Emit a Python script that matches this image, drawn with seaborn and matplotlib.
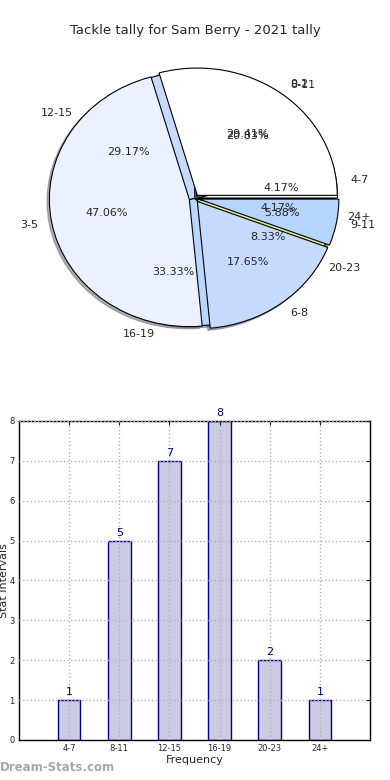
###############################################################################
###  Tackle tally: overlaid pie charts + frequency bar chart                ###
###############################################################################

import matplotlib
matplotlib.use('Agg')
import matplotlib.pyplot as plt
import seaborn as sns
import pandas as pd

#------------------------------------------------------------------------------
### Data

TITLE = 'Tackle tally for Sam Berry - 2021 tally'

# Tally intervals (bar chart and the lower pie)
tally_labels = ['4-7', '8-11', '12-15', '16-19', '20-23', '24+']
tally_counts = [1, 5, 7, 8, 2, 1]

# Game intervals (the upper pie)
game_labels = ['0-2', '3-5', '6-8', '9-11']
game_counts = [5, 8, 3, 1]

#------------------------------------------------------------------------------
### Styles

TALLY_COLORS = ['white', '#c6dafc', '#c6dafc', '#b9d6fe', '#d6ef8c', '#b9d6fe']
TALLY_EXPLODE = [0.02, 0.02, 0.0, 0.0, 0.0, 0.0]
GAME_COLORS = ['white', '#ebf1fe', '#c6d9fe', '#b5d5ff']
GAME_EXPLODE = [0.03, 0.04, 0.03, 0.03]
SHADOW = {'ox': -0.012, 'oy': -0.012, 'shade': 0.6}

BAR_FILL = '#cbcbe3'
BAR_EDGE = '#00008b'
BAR_WIDTH = 0.45

sns.set_style('white')
plt.rcParams['font.family'] = ['DejaVu Sans']

fig = plt.figure(figsize=(3.9, 7.8), dpi=100)
fig.text(0.5, 0.961, TITLE, ha='center', va='center', fontsize=9.5)

#------------------------------------------------------------------------------
### Pie charts (drawn on top of each other)

ax_pie = fig.add_axes([0.051, 0.54, 0.897, 0.408])
wedge_style = {'edgecolor': 'black', 'linewidth': 0.8}
ax_pie.pie(tally_counts, labels=tally_labels, colors=TALLY_COLORS,
           explode=TALLY_EXPLODE, autopct='%1.2f%%', shadow=SHADOW,
           wedgeprops=wedge_style, textprops={'fontsize': 8})
ax_pie.pie(game_counts, labels=game_labels, colors=GAME_COLORS,
           explode=GAME_EXPLODE, autopct='%1.2f%%', shadow=SHADOW,
           wedgeprops=wedge_style, textprops={'fontsize': 8})
ax_pie.set_aspect('auto')
ax_pie.set_xlim(-1.25, 1.25)
ax_pie.set_ylim(-1.26, 1.24)
ax_pie.axis('off')

#------------------------------------------------------------------------------
### Bar chart

df = pd.DataFrame({'interval': tally_labels, 'count': tally_counts})

ax_bar = fig.add_axes([0.0487, 0.0513, 0.9, 0.409])
sns.barplot(data=df, x='interval', y='count', ax=ax_bar, color=BAR_FILL,
            edgecolor=BAR_EDGE, linewidth=1, width=BAR_WIDTH, saturation=1,
            zorder=1)
ax_bar.bar_label(ax_bar.containers[0], padding=2, color=BAR_EDGE, fontsize=8)

ax_bar.set_xlim(-1, 6)
ax_bar.set_ylim(0, 8)
ax_bar.set_yticks(range(0, 9))
ax_bar.grid(True, linestyle=':', color='#b4b4b4', linewidth=1)
ax_bar.set_axisbelow(False)
ax_bar.tick_params(direction='in', top=True, right=True, labelsize=6,
                   length=3, pad=3)
for spine in ax_bar.spines.values():
    spine.set_visible(True)
    spine.set_color('black')
    spine.set_linewidth(1)

ax_bar.set_xlabel('Frequency', fontsize=8, labelpad=1)
ax_bar.set_ylabel('Stat Intervals', fontsize=8)
ax_bar.yaxis.set_label_coords(-0.028, 0.5)

# Watermark
fig.text(0.0, 0.012, 'Dream-Stats.com', color='#a8a8a8', fontsize=8.5,
         fontweight='bold')

fig.savefig('out.png', dpi=100)
plt.close()
